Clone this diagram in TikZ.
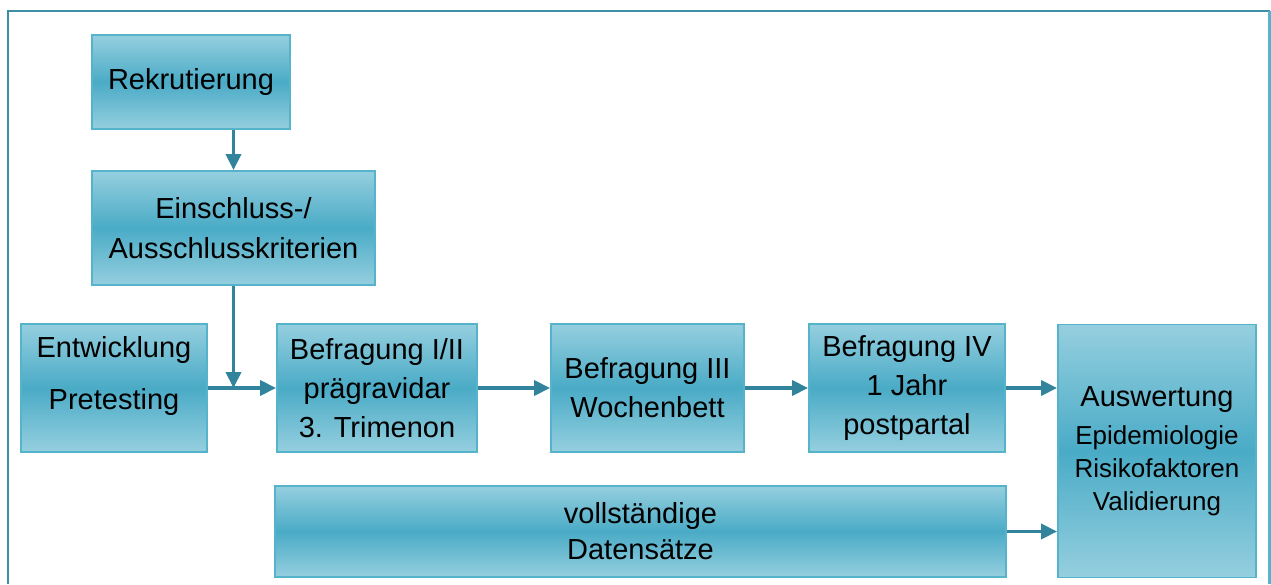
\documentclass[tikz,border=0pt]{standalone}
\usepackage{fontspec}
\setmainfont{Liberation Sans}
\usetikzlibrary{positioning, arrows.meta, calc}
\definecolor{boxLight}{HTML}{95CFDF}
\definecolor{boxDark}{HTML}{4AABC6}
\definecolor{boxEdge}{HTML}{55B3CB}
\definecolor{arrowCol}{HTML}{31849B}
\definecolor{frameCol}{HTML}{3D8FA8}

\begin{document}
\begin{tikzpicture}[
    % Node styles
    stepbox/.style={
        rectangle,
        draw=boxEdge,
        line width=1.1pt,
        top color=boxLight,
        bottom color=boxLight,
        middle color=boxDark,
        font=\fontsize{16.5}{22.2}\selectfont,
        text=black,
        align=center
    },
    arrow/.style={
        -{Triangle[length=9pt, width=8.5pt]},
        line width=2pt,
        draw=arrowCol
    }
]

    % ==== CANVAS & FRAME ====
    \useasboundingbox (0, 0) rectangle (25.42, 11.68);
    \draw[frameCol, line width=1.2pt] (0.16, 0) -- (0.16, 11.46) -- (25.39, 11.46);
    \draw[boxEdge, line width=1.2pt] (25.39, 11.46) -- (25.39, 0);

    % ==== RECRUITMENT ====
    \node[stepbox, minimum width=3.96cm, minimum height=1.88cm] (rek) at (3.82, 10.04) {Rekrutierung};
    \node[stepbox, minimum width=5.66cm, minimum height=2.28cm] (ein) at (4.67, 7.12) {Einschluss-/\\[0.6pt]Ausschlusskriterien};

    % ==== SURVEY ROW ====
    \node[stepbox, minimum width=3.72cm, minimum height=2.56cm, text depth=17.2pt] (ent) at (2.28, 3.92) {Entwicklung\\[7.4pt]Pretesting};
    \node[stepbox, minimum width=4.00cm, minimum height=2.56cm] (bef12) at (7.54, 3.92) {Befragung I/II\\prägravidar\\3. Trimenon};
    \node[stepbox, minimum width=3.86cm, minimum height=2.56cm] (bef3) at (12.95, 3.92) {Befragung III\\Wochenbett};
    \node[stepbox, minimum width=3.92cm, minimum height=2.56cm] (bef4) at (18.14, 3.92) {Befragung IV\\1 Jahr\\postpartal};

    % ==== ANALYSIS ====
    \node[stepbox, minimum width=3.96cm, minimum height=5.06cm, font=\fontsize{14.8}{18.8}\selectfont] (aus) at (23.14, 2.66) {{\fontsize{16.5}{18.8}\selectfont Auswertung}\\[2.8pt]Epidemiologie\\Risikofaktoren\\Validierung};
    \node[stepbox, minimum width=14.62cm, minimum height=1.82cm] (dat) at (12.81, 1.05) {vollständige\\[-1.7pt]Datensätze};

    % Junction on the row arrow
    \coordinate (join) at (ein.south |- ent.east);

    % ==== CONNECTIONS ====
    \draw[arrow] (rek.south -| ein.north) -- (ein.north);
    \draw[arrow] (ein.south) -- (join);
    \draw[arrow] (ent.east) -- (bef12.west);
    \draw[arrow] (bef12.east) -- (bef3.west);
    \draw[arrow] (bef3.east) -- (bef4.west);
    \draw[arrow] (bef4.east) -- (bef4.east -| aus.west);
    \draw[arrow] (dat.east) -- (dat.east -| aus.west);

\end{tikzpicture}
\end{document}
